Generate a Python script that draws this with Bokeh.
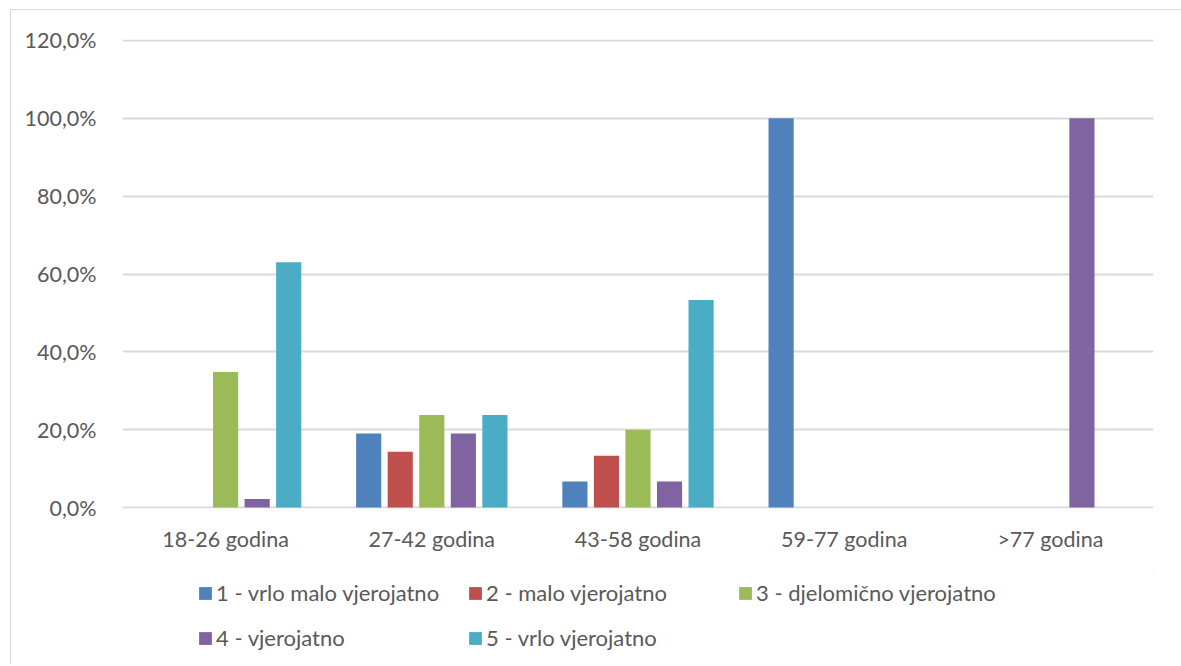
from bokeh.plotting import figure
from bokeh.models import ColumnDataSource, FactorRange, Range1d, Legend, LegendItem, FixedTicker
from bokeh.layouts import column
from bokeh.transform import dodge
from bokeh.embed import file_html
from bokeh.resources import INLINE

categories = ["18-26 godina", "27-42 godina", "43-58 godina", "59-77 godina", ">77 godina"]
series_names = ["1 - vrlo malo vjerojatno", "2 - malo vjerojatno", "3 - djelomično vjerojatno",
                "4 - vjerojatno", "5 - vrlo vjerojatno"]
s1 = [0.0, 19.0, 6.7, 100.0, 0.0]
s2 = [0.0, 14.3, 13.3, 0.0, 0.0]
s3 = [34.8, 23.8, 20.0, 0.0, 0.0]
s4 = [2.2, 19.0, 6.7, 0.0, 100.0]
s5 = [63.0, 23.8, 53.3, 0.0, 0.0]
y_ticks = [0, 20, 40, 60, 80, 100, 120]
y_tick_labels = ["0,0%", "20,0%", "40,0%", "60,0%", "80,0%", "100,0%", "120,0%"]
colors = ["#4F81BD", "#C0504D", "#9BBB59", "#8064A2", "#4BACC6"]

FONT = "Lato"
TXT = "#595959"
GRID = "#d9d9d9"

src = ColumnDataSource(dict(cat=categories, s1=s1, s2=s2, s3=s3, s4=s4, s5=s5))

p = figure(width=1170, height=560, output_backend="svg", toolbar_location=None,
           x_range=FactorRange(*categories, range_padding=0), y_range=Range1d(-0.25, 120.25),
           min_border_left=111, min_border_right=28, min_border_top=29, min_border_bottom=62)
p.outline_line_color = None
p.background_fill_color = "white"

pitch = 0.153
keys = ["s1", "s2", "s3", "s4", "s5"]
for i, k in enumerate(keys):
    p.vbar(x=dodge("cat", (i - 2) * pitch, range=p.x_range), top=k, width=0.122,
           bottom=0, source=src, fill_color=colors[i], line_color=None)

p.yaxis.ticker = FixedTicker(ticks=y_ticks)
p.yaxis.major_label_overrides = {t: l for t, l in zip(y_ticks, y_tick_labels)}
for ax in (p.xaxis, p.yaxis):
    ax.axis_line_color = None
    ax.major_tick_line_color = None
    ax.minor_tick_line_color = None
    ax.major_label_text_font = FONT
    ax.major_label_text_font_size = "21.5px"
    ax.major_label_text_color = TXT
p.yaxis.major_label_standoff = 20
p.xaxis.major_label_standoff = 11
p.xgrid.grid_line_color = None
p.ygrid.grid_line_color = GRID
p.ygrid.grid_line_width = 2
p.ygrid.ticker = FixedTicker(ticks=y_ticks)

# legend panel
pl = figure(width=1170, height=94, output_backend="svg", toolbar_location=None,
            x_range=Range1d(0, 1), y_range=Range1d(0, 1),
            min_border_left=111, min_border_right=28, min_border_top=0, min_border_bottom=0)
pl.axis.visible = False
pl.grid.grid_line_color = None
pl.outline_line_color = None
dummies = []
for c in colors:
    dummies.append(pl.vbar(x=[5], top=[5], bottom=[4], width=0.1, fill_color=c, line_color=None))

legend = Legend(items=[LegendItem(label=n, renderers=[r]) for n, r in zip(series_names, dummies)],
                ncols=3, location=(75, 13), orientation="horizontal",
                glyph_width=16, glyph_height=16, label_height=24, label_width=233,
                label_standoff=3, spacing=18, padding=0, margin=0,
                border_line_color=None, background_fill_alpha=0,
                label_text_font=FONT, label_text_font_size="22px", label_text_color=TXT)
pl.add_layout(legend, "center")

layout = column(p, pl, spacing=0)
layout.styles = {"border-top": "1px solid #d9d9d9", "border-left": "1px solid #d9d9d9",
                 "margin-left": "10px", "margin-top": "9px"}

open("out.html", "w").write(file_html(layout, INLINE))
